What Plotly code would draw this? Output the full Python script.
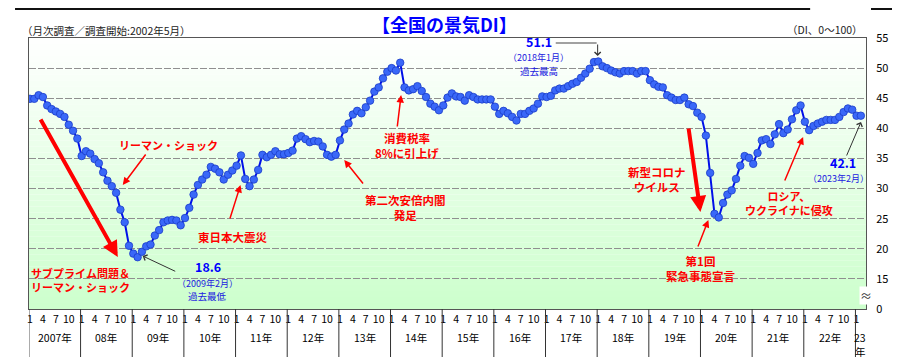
import plotly.graph_objects as go

# ---------------- data (monthly business DI, Jan 2007 - Feb 2023) ----------------
di_2007 = [44.9, 44.9, 45.5, 45.2, 43.8, 43.2, 42.8, 42.4, 41.9, 40.6, 39.6, 38.3]
di_2008 = [35.4, 36.2, 35.8, 34.9, 34.2, 32.7, 31.3, 30.4, 29.3, 26.5, 24.4, 20.5]
di_2009 = [19.2, 18.6, 19.5, 20.4, 20.7, 22.2, 23.1, 24.4, 24.7, 24.8, 24.7, 23.9]
di_2010 = [25.1, 26.8, 29.0, 30.6, 31.5, 32.3, 33.6, 33.3, 32.7, 31.5, 32.3, 33.0]
di_2011 = [33.8, 35.5, 31.6, 30.4, 31.5, 33.1, 35.6, 35.2, 35.6, 36.2, 35.7, 35.7]
di_2012 = [35.9, 36.3, 38.3, 38.7, 38.2, 37.7, 37.9, 37.8, 37.0, 35.6, 35.3, 35.6]
di_2013 = [38.0, 39.8, 40.8, 42.3, 42.9, 42.5, 43.5, 44.6, 46.1, 46.8, 48.3, 49.4]
di_2014 = [50.0, 49.6, 50.9, 46.8, 46.3, 46.5, 47.0, 46.2, 45.2, 44.1, 43.6, 43.0]
di_2015 = [43.8, 45.1, 45.8, 45.3, 45.2, 44.6, 45.5, 45.2, 44.8, 44.8, 44.8, 44.8]
di_2016 = [43.6, 42.4, 42.9, 42.5, 41.9, 41.3, 42.4, 42.4, 42.9, 43.3, 44.1, 45.3]
di_2017 = [45.2, 45.4, 46.3, 46.6, 46.6, 47.0, 47.4, 47.7, 48.4, 49.1, 49.9, 51.0]
di_2018 = [51.1, 50.3, 50.0, 49.6, 49.3, 49.1, 49.5, 49.5, 49.5, 49.1, 49.5, 49.5]
di_2019 = [48.0, 47.3, 46.9, 46.8, 45.5, 45.1, 44.7, 44.7, 45.1, 44.0, 43.7, 42.6]
di_2020 = [41.9, 38.8, 32.6, 25.8, 25.2, 27.6, 29.0, 29.7, 31.6, 33.8, 35.4, 35.1]
di_2021 = [34.1, 35.9, 38.0, 38.2, 37.4, 39.0, 40.7, 39.2, 39.8, 41.5, 43.0, 43.8]
di_2022 = [41.1, 39.7, 40.4, 40.8, 41.1, 41.4, 41.4, 41.4, 41.9, 42.7, 43.3, 43.1]
di_2023 = [42.1, 42.1]

year_labels = ["2007年", "08年", "09年", "10年", "11年", "12年", "13年", "14年",
               "15年", "16年", "17年", "18年", "19年", "20年", "21年", "22年", "23年"]
month_tick_labels = ["1", "4", "7", "10"]
y_tick_values = [10, 15, 20, 25, 30, 35, 40, 45, 50, 55]
y_tick_labels = ["0", "15", "20", "25", "30", "35", "40", "45", "50", "55"]

series = (di_2007 + di_2008 + di_2009 + di_2010 + di_2011 + di_2012 + di_2013 +
          di_2014 + di_2015 + di_2016 + di_2017 + di_2018 + di_2019 + di_2020 +
          di_2021 + di_2022 + di_2023)
month_index = list(range(len(series)))

tickvals, ticktext = [], []
for k in range(len(year_labels)):
    for m, lab in zip([0, 3, 6, 9], month_tick_labels):
        i = 12 * k + m
        if i < len(series):
            tickvals.append(i)
            ticktext.append(lab)

# ---------------- layout helpers (window pixel -> paper) ----------------
OFF = 8                      # page body margin
W, H = 900 - OFF, 362 - OFF  # figure size
WL, WR, WT, WB = 29, 868, 38, 309
L, R, T, B = WL - OFF, WR - OFF, WT - OFF, WB - OFF
def PX(px):
    return (px - OFF - L) / (R - L)
def PY(py):
    return (B - (py - OFF)) / (B - T)

FONT = "Noto Sans CJK JP, Noto Sans, sans-serif"
RED = "#ff0000"
BLUE = "#0000ff"
SUBBLUE = "#2020e0"

fig = go.Figure()
fig.add_trace(go.Scatter(
    x=month_index, y=series, mode="lines+markers",
    line=dict(color="#0010e8", width=2),
    marker=dict(size=7.5, color="#3a68f8", line=dict(color="#1a3cc8", width=0.8)),
    hoverinfo="skip", showlegend=False,
))

shapes = []
nb = 45
for b in range(nb):
    f = (b + 0.5) / nb
    r = int(round(255 + (204 - 255) * f))
    bl = int(round(255 + (204 - 255) * f))
    shapes.append(dict(type="rect", xref="paper", yref="paper", x0=0, x1=1,
                       y0=1 - (b + 1) / nb, y1=1 - b / nb, layer="below",
                       line=dict(width=0), fillcolor=f"rgb({r},255,{bl})"))
for k in range(len(year_labels)):
    xs = 12 * k - 0.25
    shapes.append(dict(type="line", xref="x", yref="paper", x0=xs, x1=xs,
                       y0=0, y1=PY(357), line=dict(color="#333", width=1)))
shapes.append(dict(type="line", xref="paper", yref="paper", x0=PX(15), x1=PX(812),
                   y0=PY(9), y1=PY(9), line=dict(color="#111", width=2)))
shapes.append(dict(type="line", xref="paper", yref="paper", x0=PX(873), x1=PX(900),
                   y0=PY(9), y1=PY(9), line=dict(color="#111", width=2)))
shapes.append(dict(type="line", xref="paper", yref="paper", x0=PX(557), x1=PX(598),
                   y0=PY(43), y1=PY(43), line=dict(color="#444", width=1)))

ann = []
def text(t, px, py, size=11.5, color=RED, bold=True, xanchor="center"):
    ann.append(dict(text=f"<b>{t}</b>" if bold else t, xref="paper", yref="paper",
                    x=PX(px), y=PY(py), xanchor=xanchor, yanchor="middle",
                    showarrow=False, font=dict(family=FONT, size=size, color=color)))

def arrow(tx, ty, hx, hy, color=RED, width=1.5, head=2, size=1.0):
    ann.append(dict(text="", xref="paper", yref="paper", x=PX(hx), y=PY(hy),
                    ax=tx - hx, ay=ty - hy, axref="pixel", ayref="pixel",
                    showarrow=True, arrowcolor=color, arrowwidth=width,
                    arrowhead=head, arrowsize=size, standoff=0))

text("【全国の景気DI】", 445, 24, size=18, color=BLUE)
text("（月次調査／調査開始:2002年5月）", 20, 31, size=10.5, color="#222", bold=False, xanchor="left")
text("（DI、0～100）", 867, 30, size=10.5, color="#222", bold=False, xanchor="right")

text("リーマン・ショック", 169, 145, size=11)
text("サブプライム問題＆<br>リーマン・ショック", 81, 280, size=11)
text("東日本大震災", 233, 237)
text("消費税率<br>8%に引上げ", 408, 145)
text("第二次安倍内閣<br>発足", 406, 207)
text("新型コロナ<br>ウイルス", 658, 179)
text("第1回<br>緊急事態宣言", 702, 268)
text("ロシア、<br>ウクライナに侵攻", 791, 203, size=11)

text("18.6", 208, 266.5, size=12.5, color=BLUE)
text("（2009年2月）", 208, 283, size=9, color=SUBBLUE, bold=False)
text("過去最低", 208, 296, size=9.5, color=SUBBLUE, bold=False)
text("51.1", 540, 41.5, size=12.5, color=BLUE)
text("（2018年1月）", 540, 57, size=9, color=SUBBLUE, bold=False)
text("過去最高", 540, 70.5, size=9.5, color=SUBBLUE, bold=False)
text("42.1", 845, 162, size=12.5, color=BLUE)
text("（2023年2月）", 840, 178, size=9, color=SUBBLUE, bold=False)

arrow(40, 118, 118, 257, width=4, size=0.8)
arrow(690, 127, 702, 212, width=4, size=0.8)
arrow(147, 153, 123, 185)
arrow(230, 220, 241, 185)
arrow(398, 128, 402, 95)
arrow(365, 185, 345, 160)
arrow(699, 248, 710, 220)
arrow(786, 182, 805, 137)
arrow(177, 272, 143, 256, color="#333", width=1, head=4, size=1.2)
arrow(848, 157, 863, 122, color="#333", width=1, head=4, size=1.2)
arrow(599, 43, 599, 56, color="#333", width=1, head=4, size=1.2)

yfont = dict(family=FONT, size=10.5, color="#000")
for k, yl in enumerate(year_labels):
    if k < len(year_labels) - 1:
        ann.append(dict(text=yl, xref="x", yref="paper", x=12 * k + 5.75, y=PY(337),
                        xanchor="center", yanchor="middle", showarrow=False, font=yfont))
    else:
        ann.append(dict(text=yl[:2], xref="paper", yref="paper", x=PX(862), y=PY(337),
                        xanchor="center", yanchor="middle", showarrow=False, font=yfont))
        ann.append(dict(text=yl[2:], xref="paper", yref="paper", x=PX(862), y=PY(351),
                        xanchor="center", yanchor="middle", showarrow=False, font=yfont))

ann.append(dict(text="≈", xref="paper", yref="paper", x=PX(868), y=PY(295),
                xanchor="center", yanchor="middle", showarrow=False, bgcolor="white",
                borderpad=0, font=dict(family=FONT, size=12, color="#333")))

fig.update_layout(
    width=W, height=H,
    margin=dict(l=L, r=W - R, t=T, b=H - B, pad=0),
    paper_bgcolor="white", plot_bgcolor="white",
    font=dict(family=FONT, size=11, color="#111"),
    shapes=shapes, annotations=ann, showlegend=False,
    xaxis=dict(range=[-0.23, 194.2], tickvals=tickvals, ticktext=ticktext,
               tickangle=0, showgrid=False, zeroline=False, ticks="",
               showline=True, mirror=True, linecolor="#555", linewidth=1,
               tickfont=dict(family=FONT, size=10.5, color="#000")),
    yaxis=dict(range=[10, 55], side="right", tickvals=y_tick_values,
               ticktext=y_tick_labels, showgrid=True, gridcolor="#8f8f8f",
               gridwidth=1.3, griddash="7px,2px", zeroline=False, ticks="",
               ticklabelstandoff=7, showline=True, mirror=True,
               linecolor="#555", linewidth=1,
               tickfont=dict(family=FONT, size=11, color="#000")),
)

fig.write_html("out.html")
